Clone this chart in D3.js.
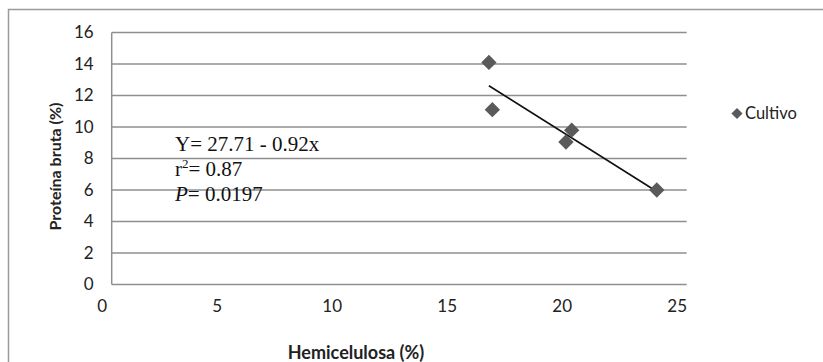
<!DOCTYPE html>
<html>
<head>
<meta charset="utf-8">
<script src="https://cdn.jsdelivr.net/npm/d3@7"></script>
<style>
  body { margin: 0; background: #fff; }
  svg { display: block; }
</style>
</head>
<body>
<svg id="chart" width="823" height="362"></svg>
<script>
// Hemicellulose vs crude protein, one series plus its linear fit
const hemicelulosa = [16.4, 16.55, 19.75, 20.0, 23.7];
const proteina     = [14.1, 11.1, 9.05, 9.8, 6.0];
const seriesName   = "Cultivo";
const xTicks = [0, 5, 10, 15, 20, 25];
const yTicks = [0, 2, 4, 6, 8, 10, 12, 14, 16];
const fitIntercept = 27.71;
const fitSlope = -0.92;
const statLines = ["Y= 27.71 - 0.92x", "r2= 0.87", "P= 0.0197"];

const svg = d3.select("#chart");
const sans = "Lato, 'Open Sans', sans-serif";
const serif = "'Liberation Serif', 'Times New Roman', serif";

// outer frame
svg.append("rect")
  .attr("x", 8.5).attr("y", 9.5).attr("width", 830).attr("height", 370)
  .attr("fill", "none").attr("stroke", "#9a9a9a").attr("stroke-width", 1.5);

const x = d3.scaleLinear().domain([0, 25]).range([111.7, 686.7]);
const y = d3.scaleLinear().domain([0, 16]).range([284.5, 32.5]);

// horizontal gridlines
svg.append("g").selectAll("line").data(yTicks).join("line")
  .attr("x1", x(0)).attr("x2", x(25))
  .attr("y1", d => y(d)).attr("y2", d => y(d))
  .attr("stroke", "#8f8f8f").attr("stroke-width", 1.5);

// vertical axis line
svg.append("line")
  .attr("x1", x(0)).attr("x2", x(0)).attr("y1", y(16)).attr("y2", y(0))
  .attr("stroke", "#8f8f8f").attr("stroke-width", 1.5);

// y axis labels
const yAxis = d3.axisLeft(y).tickValues(yTicks).tickSize(0).tickPadding(18);
const gy = svg.append("g").attr("transform", `translate(${x(0)},0)`).call(yAxis);
gy.select(".domain").remove();
gy.selectAll("text").attr("font-family", sans).attr("font-size", 17).attr("fill", "#222");

// x axis labels
const xAxis = d3.axisBottom(x).tickValues(xTicks).tickSize(0).tickPadding(15);
const gx = svg.append("g").attr("transform", `translate(0,${y(0)})`).call(xAxis);
gx.select(".domain").remove();
gx.selectAll("text").attr("font-family", sans).attr("font-size", 17).attr("fill", "#222")
  .attr("dx", -10);

// axis titles
svg.append("text")
  .attr("transform", `translate(61,${(y(16) + y(0)) / 2 + 8}) rotate(-90)`)
  .attr("text-anchor", "middle")
  .attr("font-family", sans).attr("font-weight", "bold").attr("font-size", 16)
  .attr("fill", "#222").text("Proteína bruta (%)");

svg.append("text")
  .attr("x", 356).attr("y", 359)
  .attr("text-anchor", "middle")
  .attr("font-family", sans).attr("font-weight", "bold").attr("font-size", 18)
  .attr("fill", "#222").text("Hemicelulosa (%)");

// linear fit across the observed range
const xMin = d3.min(hemicelulosa), xMax = d3.max(hemicelulosa);
svg.append("line")
  .attr("x1", x(xMin)).attr("y1", y(fitIntercept + fitSlope * xMin))
  .attr("x2", x(xMax)).attr("y2", y(fitIntercept + fitSlope * xMax))
  .attr("stroke", "#111").attr("stroke-width", 1.6);

// points
const diamond = d3.symbol().type(d3.symbolDiamond2).size(150);
const pts = hemicelulosa.map((h, i) => ({ h, p: proteina[i] }));
svg.append("g").selectAll("path").data(pts).join("path")
  .attr("d", diamond)
  .attr("transform", d => `translate(${x(d.h)},${y(d.p)})`)
  .attr("fill", "#5a5a5a");

// regression statistics
const stats = svg.append("g").attr("font-family", serif).attr("font-size", 21).attr("fill", "#111");
stats.append("text").attr("x", 175).attr("y", 151).text(statLines[0]);
const r2 = stats.append("text").attr("x", 175).attr("y", 176);
r2.append("tspan").text("r");
r2.append("tspan").attr("font-size", 13).attr("dy", -8).text("2");
r2.append("tspan").attr("dy", 8).text("= 0.87");
const pv = stats.append("text").attr("x", 175).attr("y", 201);
pv.append("tspan").attr("font-style", "italic").text("P");
pv.append("tspan").text("= 0.0197");

// legend
svg.append("path")
  .attr("d", d3.symbol().type(d3.symbolDiamond2).size(80))
  .attr("transform", "translate(737,113.5)")
  .attr("fill", "#5a5a5a");
svg.append("text")
  .attr("x", 745).attr("y", 119)
  .attr("font-family", sans).attr("font-size", 16.5).attr("fill", "#222")
  .text(seriesName);
</script>
</body>
</html>
